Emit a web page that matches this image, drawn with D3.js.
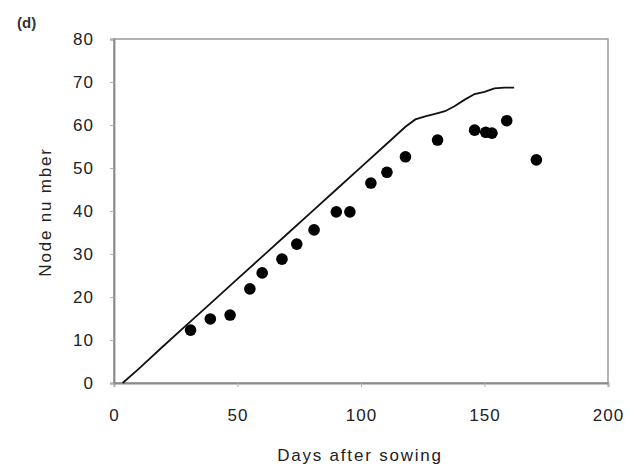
<!DOCTYPE html>
<html><head><meta charset="utf-8">
<script src="https://cdn.jsdelivr.net/npm/d3@7"></script>
<style>body{margin:0;background:#fff;}svg{display:block;font-family:"Liberation Sans",Arial,sans-serif;}</style>
</head><body>
<svg id="c" width="634" height="468"></svg>
<script>
const obsDays  = [31, 39, 47, 55, 60, 68, 74, 81, 90, 95.5, 104, 110.5, 118, 131, 146, 150.5, 153, 159, 171];
const obsNodes = [12.3, 14.9, 15.8, 21.9, 25.6, 28.8, 32.3, 35.6, 39.8, 39.8, 46.5, 49, 52.6, 56.5, 58.8, 58.3, 58.1, 61, 51.9];
const simDays  = [3.5, 10, 20, 30, 40, 50, 60, 70, 80, 90, 100, 110, 118, 122, 126, 130, 134, 138, 142, 146, 150, 154, 158, 162];
const simNodes = [0, 3.3, 8.6, 13.8, 19, 24.2, 29.4, 34.6, 39.8, 45, 50.2, 55.4, 59.6, 61.3, 62, 62.6, 63.2, 64.4, 65.9, 67.2, 67.7, 68.5, 68.7, 68.7];
const xTicks = [0, 50, 100, 150, 200];
const yTicks = [0, 10, 20, 30, 40, 50, 60, 70, 80];

const svg = d3.select("#c");
const L = 114, R = 608, T = 39, B = 383;
const x = d3.scaleLinear().domain([0, 200]).range([L, R]);
const y = d3.scaleLinear().domain([0, 80]).range([B, T]);
const axisCol = "#8a8a8a";
const FONT = "'Liberation Sans', Arial, sans-serif";

// frame
svg.append("rect").attr("x", L).attr("y", T).attr("width", R - L).attr("height", B - T)
  .attr("fill", "none").attr("stroke", "#a0a0a0").attr("stroke-width", 1.6);

const xa = svg.append("g").attr("transform", `translate(0,${B})`)
  .call(d3.axisBottom(x).tickValues(xTicks).tickSize(4).tickPadding(22));
const ya = svg.append("g").attr("transform", `translate(${L},0)`)
  .call(d3.axisLeft(y).tickValues(yTicks).tickSize(4).tickPadding(16));
[xa, ya].forEach(g => {
  g.select(".domain").attr("stroke", axisCol).attr("stroke-width", 1.8);
  g.selectAll(".tick line").attr("stroke", "#b0b0b0");
  g.selectAll("text").attr("font-size", 17).attr("fill", "#222")
    .attr("letter-spacing", 1).attr("font-family", FONT);
});

// simulated line
svg.append("path").datum(simDays.map((d, i) => [d, simNodes[i]]))
  .attr("fill", "none").attr("stroke", "#111").attr("stroke-width", 1.8)
  .attr("d", d3.line().x(d => x(d[0])).y(d => y(d[1])));

// observed points
svg.selectAll("circle.obs").data(obsDays.map((d, i) => [d, obsNodes[i]]))
  .join("circle").attr("class", "obs")
  .attr("cx", d => x(d[0])).attr("cy", d => y(d[1])).attr("r", 5.8).attr("fill", "#000");

// labels
svg.append("text").attr("x", 360).attr("y", 461).attr("text-anchor", "middle")
  .attr("font-size", 17).attr("letter-spacing", 1.8).attr("fill", "#222").text("Days after sowing");
svg.append("text").attr("transform", "translate(51,212) rotate(-90)").attr("text-anchor", "middle")
  .attr("font-size", 17).attr("letter-spacing", 1.8).attr("fill", "#222").text("Node nu mber");
svg.append("text").attr("x", 17).attr("y", 28).attr("font-size", 15).attr("font-weight", "bold")
  .attr("fill", "#333").text("(d)");
</script>
</body></html>
